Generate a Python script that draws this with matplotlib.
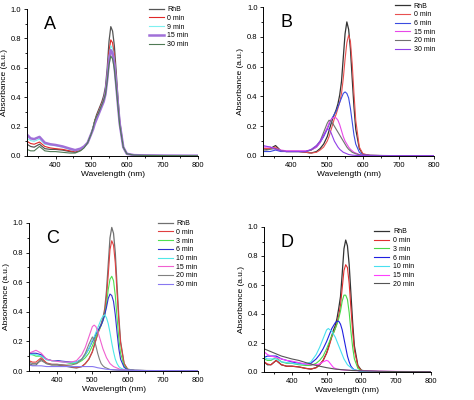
"""UV-vis absorbance spectra of RhB, four panels (A-D)."""

import matplotlib
matplotlib.use("Agg")
import matplotlib.pyplot as plt
from matplotlib.ticker import MultipleLocator

plt.rcParams["font.family"] = ["Liberation Sans", "DejaVu Sans"]

# shared wavelength grid (nm)
WL = [320, 330, 340, 355, 370, 385,
      400, 420, 440, 455, 470,
      480, 490, 500, 505, 510,
      515, 520, 525, 530, 535,
      540, 545, 550, 555, 560,
      565, 570, 575, 580, 590,
      600, 620, 650, 700, 800]

# ---- panel A
A_LABELS = ["RhB", "0 min", "9 min", "15 min", "30 min"]
A_RHB = [0.08, 0.065, 0.06, 0.08, 0.05, 0.045,
         0.045, 0.04, 0.03, 0.025, 0.04,
         0.06, 0.09, 0.15, 0.19, 0.24,
         0.28, 0.31, 0.34, 0.37, 0.41,
         0.47, 0.60, 0.78, 0.88, 0.85,
         0.75, 0.58, 0.40, 0.24, 0.06,
         0.015, 0.006, 0.004, 0.003, 0.002]
A_0 = [0.10, 0.085, 0.08, 0.095, 0.065, 0.055,
       0.05, 0.045, 0.035, 0.03, 0.04,
       0.06, 0.09, 0.15, 0.19, 0.24,
       0.27, 0.30, 0.33, 0.36, 0.39,
       0.44, 0.55, 0.71, 0.79, 0.77,
       0.68, 0.53, 0.37, 0.23, 0.06,
       0.015, 0.006, 0.004, 0.003, 0.002]
A_9 = [0.12, 0.105, 0.10, 0.115, 0.08, 0.075,
       0.07, 0.06, 0.045, 0.035, 0.045,
       0.06, 0.09, 0.15, 0.19, 0.23,
       0.26, 0.29, 0.32, 0.35, 0.38,
       0.43, 0.53, 0.67, 0.75, 0.73,
       0.65, 0.51, 0.36, 0.22, 0.06,
       0.015, 0.006, 0.004, 0.003, 0.002]
A_15 = [0.145, 0.12, 0.115, 0.13, 0.09, 0.08,
        0.075, 0.065, 0.05, 0.04, 0.05,
        0.065, 0.09, 0.15, 0.18, 0.22,
        0.25, 0.28, 0.31, 0.34, 0.37,
        0.42, 0.52, 0.65, 0.72, 0.70,
        0.62, 0.49, 0.35, 0.22, 0.06,
        0.015, 0.006, 0.004, 0.003, 0.002]
A_30 = [0.045, 0.035, 0.035, 0.065, 0.035, 0.03,
        0.03, 0.025, 0.02, 0.02, 0.035,
        0.055, 0.09, 0.15, 0.19, 0.24,
        0.27, 0.29, 0.32, 0.35, 0.38,
        0.42, 0.51, 0.62, 0.68, 0.66,
        0.59, 0.47, 0.34, 0.21, 0.06,
        0.015, 0.006, 0.004, 0.003, 0.002]

# ---- panel B
B_LABELS = ["RhB", "0 min", "6 min", "15 min", "20 min", "30 min"]
B_RHB = [0.05, 0.045, 0.05, 0.07, 0.035, 0.03,
         0.03, 0.03, 0.025, 0.02, 0.03,
         0.05, 0.08, 0.13, 0.17, 0.21,
         0.25, 0.28, 0.31, 0.35, 0.41,
         0.50, 0.66, 0.82, 0.90, 0.85,
         0.72, 0.52, 0.33, 0.18, 0.05,
         0.012, 0.004, 0.003, 0.002, 0.002]
B_0 = [0.05, 0.05, 0.05, 0.06, 0.035, 0.03,
       0.03, 0.03, 0.025, 0.02, 0.025,
       0.04, 0.06, 0.10, 0.13, 0.17,
       0.21, 0.25, 0.28, 0.32, 0.36,
       0.42, 0.52, 0.65, 0.76, 0.81,
       0.77, 0.62, 0.42, 0.24, 0.06,
       0.015, 0.004, 0.003, 0.002, 0.002]
B_6 = [0.03, 0.03, 0.03, 0.04, 0.03, 0.03,
       0.03, 0.03, 0.03, 0.04, 0.06,
       0.09, 0.13, 0.18, 0.21, 0.24,
       0.26, 0.28, 0.30, 0.33, 0.36,
       0.39, 0.42, 0.43, 0.42, 0.39,
       0.32, 0.23, 0.14, 0.08, 0.025,
       0.008, 0.004, 0.003, 0.002, 0.002]
B_15 = [0.06, 0.06, 0.06, 0.05, 0.04, 0.035,
        0.035, 0.035, 0.035, 0.04, 0.06,
        0.09, 0.14, 0.19, 0.22, 0.24,
        0.255, 0.26, 0.255, 0.24, 0.21,
        0.17, 0.13, 0.10, 0.08, 0.06,
        0.045, 0.035, 0.025, 0.02, 0.01,
        0.005, 0.004, 0.003, 0.002, 0.002]
B_20 = [0.04, 0.04, 0.045, 0.05, 0.035, 0.03,
        0.03, 0.03, 0.03, 0.04, 0.07,
        0.10, 0.16, 0.22, 0.24, 0.235,
        0.22, 0.20, 0.18, 0.16, 0.14,
        0.12, 0.10, 0.08, 0.06, 0.045,
        0.035, 0.025, 0.02, 0.015, 0.008,
        0.005, 0.004, 0.003, 0.002, 0.002]
B_30 = [0.07, 0.065, 0.06, 0.045, 0.035, 0.03,
        0.03, 0.03, 0.03, 0.045, 0.07,
        0.10, 0.14, 0.18, 0.18, 0.16,
        0.13, 0.10, 0.08, 0.06, 0.045,
        0.035, 0.025, 0.02, 0.015, 0.01,
        0.008, 0.006, 0.005, 0.004, 0.003,
        0.003, 0.002, 0.002, 0.002, 0.002]

# ---- panel C
C_LABELS = ["RhB", "0 min", "3 min", "6 min", "10 min", "15 min", "20 min", "30 min"]
C_RHB = [0.05, 0.04, 0.04, 0.08, 0.05, 0.04,
         0.04, 0.035, 0.025, 0.02, 0.03,
         0.05, 0.08, 0.13, 0.17, 0.21,
         0.25, 0.29, 0.32, 0.36, 0.42,
         0.54, 0.72, 0.90, 0.97, 0.93,
         0.80, 0.58, 0.37, 0.20, 0.05,
         0.012, 0.004, 0.003, 0.002, 0.002]
C_0 = [0.07, 0.06, 0.06, 0.09, 0.055, 0.045,
       0.045, 0.04, 0.03, 0.025, 0.03,
       0.05, 0.08, 0.13, 0.17, 0.21,
       0.25, 0.28, 0.31, 0.35, 0.40,
       0.50, 0.65, 0.82, 0.88, 0.85,
       0.73, 0.53, 0.34, 0.19, 0.05,
       0.012, 0.004, 0.003, 0.002, 0.002]
C_3 = [0.12, 0.11, 0.10, 0.10, 0.08, 0.07,
       0.07, 0.06, 0.05, 0.05, 0.07,
       0.09, 0.12, 0.17, 0.20, 0.23,
       0.26, 0.28, 0.31, 0.34, 0.38,
       0.45, 0.55, 0.62, 0.64, 0.61,
       0.51, 0.36, 0.22, 0.12, 0.035,
       0.01, 0.004, 0.003, 0.002, 0.002]
C_6 = [0.12, 0.12, 0.12, 0.11, 0.08, 0.07,
       0.07, 0.065, 0.06, 0.06, 0.08,
       0.11, 0.15, 0.20, 0.22, 0.25,
       0.27, 0.29, 0.31, 0.34, 0.38,
       0.43, 0.49, 0.52, 0.51, 0.47,
       0.38, 0.26, 0.15, 0.08, 0.025,
       0.008, 0.004, 0.003, 0.002, 0.002]
C_10 = [0.11, 0.11, 0.11, 0.10, 0.075, 0.07,
        0.065, 0.06, 0.055, 0.06, 0.08,
        0.11, 0.15, 0.21, 0.23, 0.26,
        0.29, 0.32, 0.35, 0.37, 0.38,
        0.36, 0.32, 0.26, 0.19, 0.13,
        0.08, 0.05, 0.03, 0.02, 0.01,
        0.005, 0.004, 0.003, 0.002, 0.002]
C_15 = [0.12, 0.13, 0.14, 0.12, 0.08, 0.07,
        0.065, 0.06, 0.06, 0.07, 0.11,
        0.16, 0.23, 0.30, 0.31, 0.30,
        0.27, 0.23, 0.19, 0.15, 0.12,
        0.09, 0.07, 0.05, 0.04, 0.03,
        0.025, 0.02, 0.015, 0.01, 0.008,
        0.005, 0.004, 0.003, 0.002, 0.002]
C_20 = [0.06, 0.05, 0.05, 0.07, 0.05, 0.045,
        0.045, 0.04, 0.04, 0.05, 0.08,
        0.12, 0.18, 0.23, 0.21, 0.17,
        0.12, 0.08, 0.05, 0.035, 0.025,
        0.02, 0.015, 0.01, 0.009, 0.008,
        0.007, 0.006, 0.005, 0.005, 0.004,
        0.004, 0.003, 0.003, 0.002, 0.002]
C_30 = [0.04, 0.035, 0.035, 0.035, 0.03, 0.03,
        0.03, 0.03, 0.03, 0.03, 0.03,
        0.03, 0.03, 0.03, 0.028, 0.025,
        0.022, 0.02, 0.018, 0.016, 0.014,
        0.012, 0.011, 0.01, 0.009, 0.008,
        0.008, 0.007, 0.007, 0.006, 0.006,
        0.005, 0.004, 0.003, 0.003, 0.002]

# ---- panel D
D_LABELS = ["RhB", "0 min", "3 min", "6 min", "10 min", "15 min", "20 min"]
D_RHB = [0.07, 0.05, 0.05, 0.08, 0.05, 0.04,
         0.04, 0.035, 0.025, 0.02, 0.03,
         0.05, 0.08, 0.13, 0.17, 0.21,
         0.25, 0.29, 0.32, 0.37, 0.44,
         0.52, 0.68, 0.85, 0.91, 0.87,
         0.74, 0.54, 0.34, 0.18, 0.045,
         0.012, 0.004, 0.003, 0.002, 0.002]
D_0 = [0.07, 0.055, 0.05, 0.08, 0.05, 0.04,
       0.04, 0.035, 0.025, 0.02, 0.03,
       0.05, 0.08, 0.13, 0.16, 0.20,
       0.24, 0.27, 0.30, 0.34, 0.39,
       0.46, 0.58, 0.70, 0.74, 0.72,
       0.61, 0.44, 0.28, 0.15, 0.04,
       0.01, 0.004, 0.003, 0.002, 0.002]
D_3 = [0.09, 0.08, 0.08, 0.10, 0.07, 0.06,
       0.06, 0.05, 0.045, 0.045, 0.06,
       0.08, 0.11, 0.16, 0.19, 0.22,
       0.25, 0.27, 0.30, 0.33, 0.37,
       0.42, 0.49, 0.53, 0.53, 0.50,
       0.41, 0.28, 0.17, 0.09, 0.025,
       0.008, 0.004, 0.003, 0.002, 0.002]
D_6 = [0.10, 0.11, 0.11, 0.11, 0.09, 0.08,
       0.07, 0.06, 0.055, 0.06, 0.09,
       0.12, 0.16, 0.21, 0.24, 0.27,
       0.30, 0.32, 0.34, 0.35, 0.35,
       0.33, 0.29, 0.23, 0.17, 0.11,
       0.07, 0.04, 0.025, 0.015, 0.01,
       0.005, 0.004, 0.003, 0.002, 0.002]
D_10 = [0.10, 0.09, 0.09, 0.09, 0.07, 0.065,
        0.06, 0.055, 0.055, 0.07, 0.12,
        0.17, 0.23, 0.29, 0.30, 0.29,
        0.28, 0.26, 0.24, 0.21, 0.18,
        0.15, 0.12, 0.09, 0.07, 0.05,
        0.04, 0.03, 0.02, 0.015, 0.01,
        0.005, 0.004, 0.003, 0.002, 0.002]
D_15 = [0.14, 0.12, 0.11, 0.10, 0.09, 0.08,
        0.075, 0.065, 0.055, 0.05, 0.05,
        0.055, 0.07, 0.08, 0.075, 0.06,
        0.045, 0.03, 0.025, 0.02, 0.018,
        0.016, 0.015, 0.014, 0.013, 0.012,
        0.012, 0.011, 0.011, 0.01, 0.01,
        0.01, 0.008, 0.006, 0.004, 0.002]
D_20 = [0.16, 0.15, 0.14, 0.125, 0.11, 0.10,
        0.09, 0.08, 0.065, 0.055, 0.045,
        0.04, 0.035, 0.03, 0.028, 0.026,
        0.024, 0.022, 0.02, 0.019, 0.018,
        0.017, 0.016, 0.015, 0.014, 0.013,
        0.012, 0.011, 0.01, 0.01, 0.009,
        0.008, 0.007, 0.005, 0.003, 0.002]


def draw_panel(ax, letter, labels, series, colors, widths, legend_xy):
    for label, values, color, lw in zip(labels, series, colors, widths):
        ax.plot(WL, values, color=color, linewidth=lw, label=label)
    ax.set_xlim(320, 800)
    ax.set_ylim(0, 1.0)
    ax.xaxis.set_major_locator(MultipleLocator(100))
    ax.xaxis.set_minor_locator(MultipleLocator(50))
    ax.yaxis.set_major_locator(MultipleLocator(0.2))
    ax.yaxis.set_minor_locator(MultipleLocator(0.1))
    ax.set_yticklabels([f"{v:.1f}" for v in ax.get_yticks()])
    for side in ("top", "right"):
        ax.spines[side].set_visible(False)
    for side in ("left", "bottom"):
        ax.spines[side].set_linewidth(0.7)
    ax.tick_params(which="both", direction="out", labelsize=5.5, width=0.6, pad=1.5)
    ax.tick_params(which="major", length=2.5)
    ax.tick_params(which="minor", length=1.5)
    ax.set_xlabel("Wavelength (nm)", fontsize=6, labelpad=2)
    ax.set_ylabel("Absorbance (a.u.)", fontsize=6, labelpad=2)
    ax.text(0.1, 0.95, letter, transform=ax.transAxes, fontsize=13, va="top")
    ax.legend(loc="upper left", bbox_to_anchor=legend_xy, frameon=False,
              fontsize=5, handlelength=2.2, handletextpad=0.5,
              labelspacing=0.25, borderpad=0, borderaxespad=0)


fig = plt.figure(figsize=(4.74, 4.0), dpi=100)
ax_a = fig.add_axes([0.057, 0.61, 0.361, 0.3675])
ax_b = fig.add_axes([0.555, 0.61, 0.361, 0.3725])
ax_c = fig.add_axes([0.061, 0.0725, 0.357, 0.37])
ax_d = fig.add_axes([0.557, 0.07, 0.352, 0.3625])

draw_panel(ax_a, "A", A_LABELS, [A_RHB, A_0, A_9, A_15, A_30],
           ["#555555", "#e02828", "#7ff0f0", "#a070d8", "#4f7a55"],
           [0.9, 0.8, 0.8, 1.8, 0.8], (0.71, 1.02))
draw_panel(ax_b, "B", B_LABELS, [B_RHB, B_0, B_6, B_15, B_20, B_30],
           ["#333333", "#e85050", "#3a4ce0", "#e848e8", "#707070", "#9040e8"],
           [0.9, 0.8, 0.8, 0.8, 0.8, 0.8], (0.77, 1.03))
draw_panel(ax_c, "C", C_LABELS, [C_RHB, C_0, C_3, C_6, C_10, C_15, C_20, C_30],
           ["#707070", "#e04040", "#50e050", "#3030d0", "#50e8e8", "#f060d0", "#808080", "#8878f0"],
           [0.9, 0.8, 0.8, 0.8, 0.8, 0.8, 0.8, 0.8], (0.76, 1.02))
draw_panel(ax_d, "D", D_LABELS, [D_RHB, D_0, D_3, D_6, D_10, D_15, D_20],
           ["#333333", "#e03030", "#48d848", "#2020e0", "#48e0f0", "#ff40ff", "#555555"],
           [0.9, 0.8, 0.8, 0.8, 0.8, 0.8, 0.8], (0.66, 0.99))

fig.savefig("out.png", dpi=100)
